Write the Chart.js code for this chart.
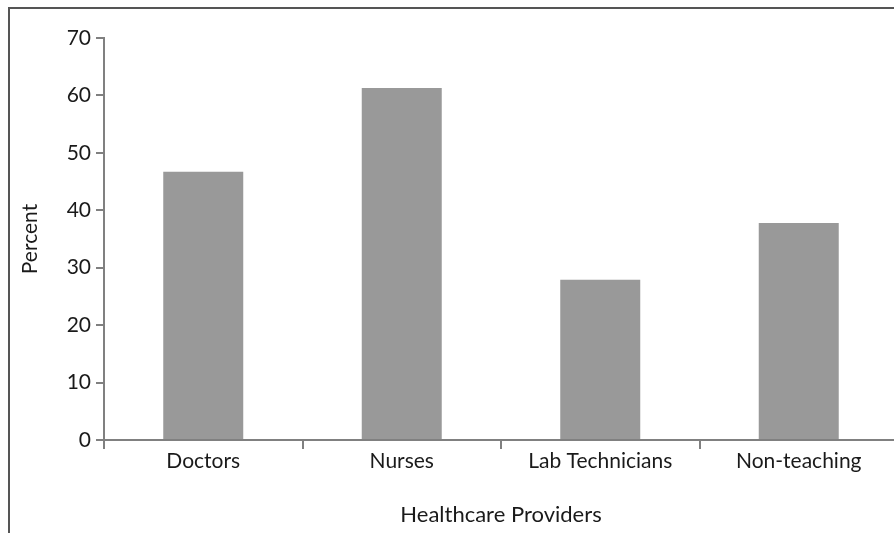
<!DOCTYPE html>
<html>
<head>
<meta charset="utf-8">
<script src="https://cdn.jsdelivr.net/npm/chart.js@4/dist/chart.umd.min.js"></script>
<style>
  html, body { margin: 0; padding: 0; background: #fff; overflow: hidden; }
  #wrap { position: relative; width: 894px; height: 533px; overflow: hidden; }
  #frame {
    position: absolute; left: 8px; top: 7px; width: 1000px; height: 1000px;
    border-top: 2px solid #555; border-left: 2px solid #555;
  }
  #box { position: absolute; left: 0; top: 0; width: 900px; height: 533px; }
</style>
</head>
<body>
<div id="wrap">
  <div id="frame"></div>
  <div id="box"><canvas id="myChart"></canvas></div>
</div>
<script>
// data
const categories = ["Doctors", "Nurses", "Lab Technicians", "Non-teaching"];
const percents = [46.7, 61.3, 27.9, 37.8];
const yTicks = [0, 10, 20, 30, 40, 50, 60, 70];

const axisGrey = "#808080";
const textColor = "#1a1a1a";
const fontFamily = "Lato, sans-serif";

const myChart = new Chart("myChart", {
  type: "bar",
  data: {
    labels: categories,
    datasets: [
      {
        label: "Percent",
        backgroundColor: "#999999",
        data: percents,
        categoryPercentage: 1,
        barPercentage: 0.403,
      },
    ],
  },
  options: {
    responsive: true,
    maintainAspectRatio: false,
    animation: false,
    layout: {
      padding: { top: 38, right: 2, left: 0, bottom: 0 },
    },
    scales: {
      y: {
        min: 0,
        max: 70,
        afterFit: (s) => { s.width = 104; },
        afterBuildTicks: (s) => { s.ticks = yTicks.map((v) => ({ value: v })); },
        grid: {
          drawOnChartArea: false,
          drawTicks: true,
          tickLength: 8,
          color: axisGrey,
          lineWidth: 2,
        },
        border: { color: axisGrey, width: 2 },
        ticks: {
          padding: 5,
          color: textColor,
          font: { family: fontFamily, size: 21 },
        },
        title: {
          display: true,
          text: "Percent",
          color: textColor,
          font: { family: fontFamily, size: 21 },
          padding: { top: 18, bottom: 0 },
        },
      },
      x: {
        afterFit: (s) => { s.height = 93; },
        grid: {
          drawOnChartArea: false,
          drawTicks: true,
          tickLength: 9,
          color: axisGrey,
          lineWidth: 2,
        },
        border: { color: axisGrey, width: 2 },
        ticks: {
          padding: 0,
          color: textColor,
          font: { family: fontFamily, size: 21 },
          maxRotation: 0,
        },
        title: {
          display: true,
          text: "Healthcare Providers",
          color: textColor,
          font: { family: fontFamily, size: 22 },
          padding: { top: 0, bottom: 5 },
        },
      },
    },
    plugins: {
      legend: { display: false },
      tooltip: { enabled: false },
    },
  },
});
</script>
</body>
</html>
